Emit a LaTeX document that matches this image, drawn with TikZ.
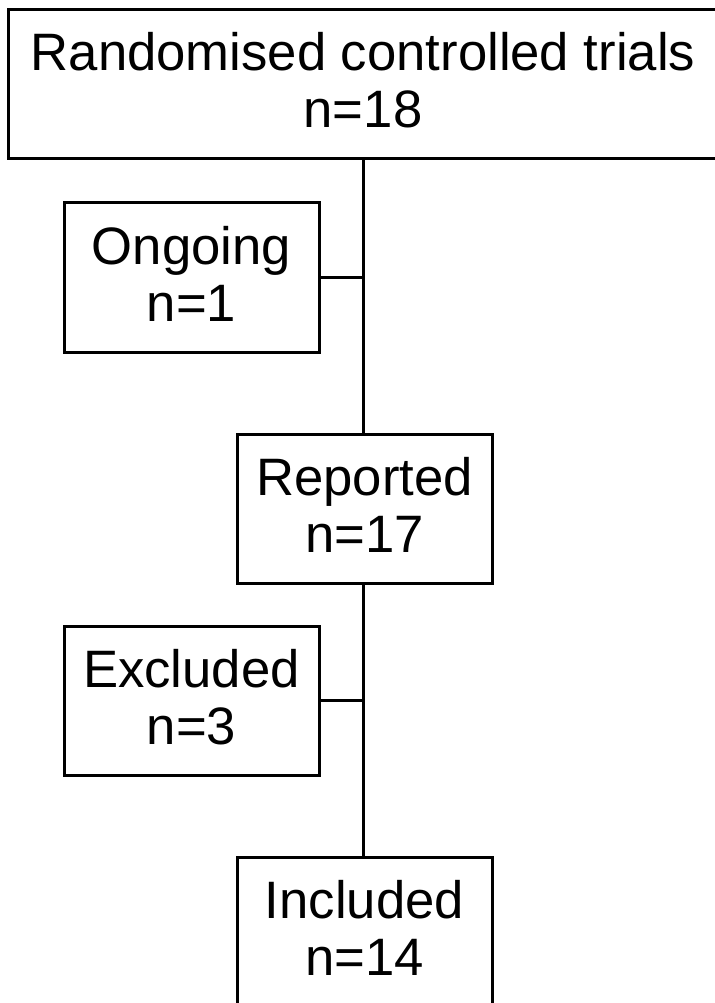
\documentclass[tikz,border=0pt]{standalone}
\usepackage{fontspec}
\setmainfont{Liberation Sans}
\newcommand\lowfix{\rule[-5pt]{0pt}{5pt}}
\begin{document}
\begin{tikzpicture}[x=0.75pt,y=-0.75pt,
  box/.style={draw=black,line width=2.25pt,fill=white,inner sep=0pt,align=center,
    font=\fontsize{39.5}{42.75}\selectfont},
  link/.style={draw=black,line width=2.25pt}]
\useasboundingbox (0,0) rectangle (714,1003);
\fill[white] (0,0) rectangle (714,1003);
\node[box,minimum width=710*0.75pt,minimum height=149*0.75pt] (top) at (363,83.5) {Randomised controlled trials\\n=18\lowfix};
\node[box,minimum width=255*0.75pt,minimum height=150*0.75pt] (ong) at (191.5,277) {Ongoing\\n=1\lowfix};
\node[box,minimum width=255*0.75pt,minimum height=149*0.75pt] (rep) at (364.5,508.5) {Reported\\n=17\lowfix};
\node[box,minimum width=255*0.75pt,minimum height=149*0.75pt] (exc) at (191.5,700.5) {Excluded\\n=3\lowfix};
\node[box,minimum width=255*0.75pt,minimum height=149*0.75pt] (inc) at (364.5,931.5) {Included\\n=14\lowfix};
\draw[link] (top.south) -- (top.south |- rep.north);
\draw[link] (top.south |- rep.south) -- (top.south |- inc.north);
\draw[link] (ong.east) -- (ong.east -| top.south);
\draw[link] (exc.east) -- (exc.east -| top.south);
\end{tikzpicture}
\end{document}
